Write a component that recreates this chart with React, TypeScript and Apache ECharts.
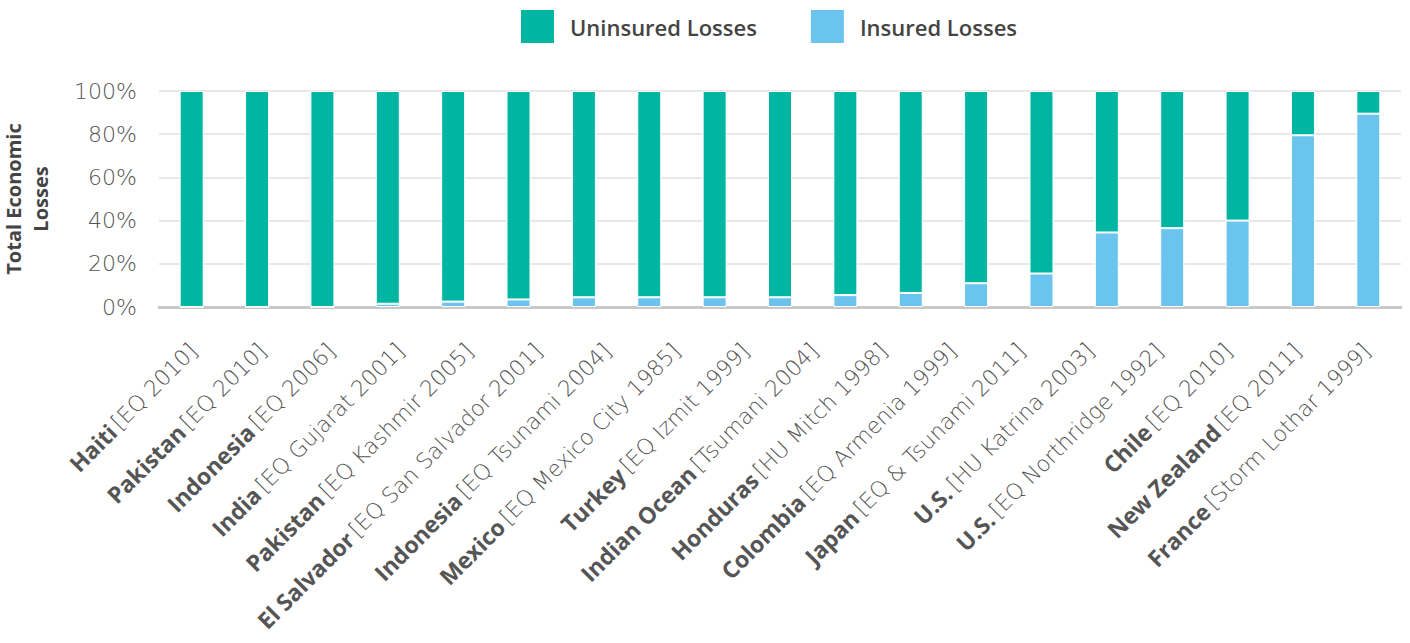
import React, { useEffect, useRef } from "react";
import * as echarts from "echarts";

// Category labels (18 as printed in the reference)
const categories = [
  "Haiti [EQ 2010]",
  "Pakistan [EQ 2010]",
  "Indonesia [EQ 2006]",
  "India [EQ Gujarat 2001]",
  "Pakistan [EQ Kashmir 2005]",
  "El Salvador [EQ San Salvador 2001]",
  "Indonesia [EQ Tsunami 2004]",
  "Mexico [EQ Mexico City 1985]",
  "Turkey [EQ Izmit 1999]",
  "Indian Ocean [Tsumani 2004]",
  "Honduras [HU Mitch 1998]",
  "Colombia [EQ Armenia 1999]",
  "Japan [EQ & Tsunami 2011]",
  "U.S. [HU Katrina 2003]",
  "U.S. [EQ Northridge 1992]",
  "Chile [EQ 2010]",
  "New Zealand [EQ 2011]",
  "France [Storm Lothar 1999]",
];

// Bar values (19 bars drawn in the reference), percent of total economic losses
const insuredLosses = [0, 0, 0, 1.5, 2.5, 3.5, 4.5, 4.5, 4.5, 4.5, 5.5, 6.5, 11, 15.5, 34.5, 36.5, 40, 79.5, 89.5];
const uninsuredLosses = [100, 100, 100, 98.5, 97.5, 96.5, 95.5, 95.5, 95.5, 95.5, 94.5, 93.5, 89, 84.5, 65.5, 63.5, 60, 20.5, 10.5];

const yTicks = { min: 0, max: 100, interval: 20 };

const GREEN = "#00b5a2";
const BLUE = "#6ac4ee";

export default function App() {
  const ref = useRef<HTMLDivElement>(null);

  useEffect(() => {
    if (!ref.current) return;
    const chart = echarts.init(ref.current, null, { renderer: "svg" });
    const barKeys = insuredLosses.map((_, i) => "bar" + (i + 1));
    chart.setOption({
      animation: false,
      backgroundColor: "#ffffff",
      legend: {
        data: ["Uninsured Losses", "Insured Losses"],
        top: 3,
        left: 514,
        icon: "rect",
        itemWidth: 35,
        itemHeight: 35,
        itemGap: 52,
        textStyle: {
          fontFamily: "Open Sans",
          fontSize: 22,
          fontWeight: 600,
          color: "#444",
          padding: [0, 0, 0, 10],
        },
      },
      grid: {
        left: 159,
        right: 9,
        top: 91,
        bottom: 336,
        containLabel: false,
        outerBoundsMode: "none",
      },
      xAxis: [
        {
          type: "category",
          data: barKeys,
          position: "bottom",
          axisLine: { show: true, lineStyle: { color: "#c8c8c8", width: 3 } },
          axisTick: { show: false },
          axisLabel: { show: false },
          splitLine: { show: false },
        },
        {
          type: "category",
          data: categories,
          position: "bottom",
          axisLine: { show: false },
          axisTick: { show: false },
          splitLine: { show: false },
          axisLabel: {
            show: true,
            interval: 0,
            rotate: 45,
            margin: 40,
            hideOverlap: false,
            formatter: (v: string) => {
              const k = v.indexOf(" [");
              return `{b|${v.slice(0, k)}} {l|${v.slice(k + 1)}}`;
            },
            rich: {
              b: { fontFamily: "Open Sans", fontSize: 23, fontWeight: "bold", color: "#555" },
              l: { fontFamily: "DejaVu Sans", fontSize: 22, fontWeight: 200, color: "#555" },
            },
          },
        },
      ],
      yAxis: {
        type: "value",
        min: yTicks.min,
        max: yTicks.max,
        interval: yTicks.interval,
        name: "Total Economic\nLosses",
        nameLocation: "middle",
        nameGap: 105,
        nameTextStyle: {
          fontFamily: "Open Sans",
          fontSize: 20,
          fontWeight: "bold",
          color: "#444",
          lineHeight: 27,
        },
        axisLine: { show: false },
        axisTick: { show: false },
        axisLabel: {
          formatter: "{value}%",
          margin: 22,
          fontFamily: "DejaVu Sans",
          fontSize: 22,
          fontWeight: 200,
          color: "#555",
        },
        splitLine: { lineStyle: { color: "#e8e8e8", width: 2 } },
      },
      series: [
        {
          name: "Insured Losses",
          type: "bar",
          stack: "total",
          xAxisIndex: 0,
          barWidth: 24,
          data: insuredLosses,
          itemStyle: { color: BLUE, borderColor: "#ffffff", borderWidth: 1 },
        },
        {
          name: "Uninsured Losses",
          type: "bar",
          stack: "total",
          xAxisIndex: 0,
          barWidth: 24,
          data: uninsuredLosses,
          itemStyle: { color: GREEN, borderColor: "#ffffff", borderWidth: 1 },
        },
      ],
    });
    return () => chart.dispose();
  }, []);

  return (
    <div
      ref={ref}
      style={{ position: "fixed", left: 0, top: 0, width: 1410, height: 643 }}
    />
  );
}
